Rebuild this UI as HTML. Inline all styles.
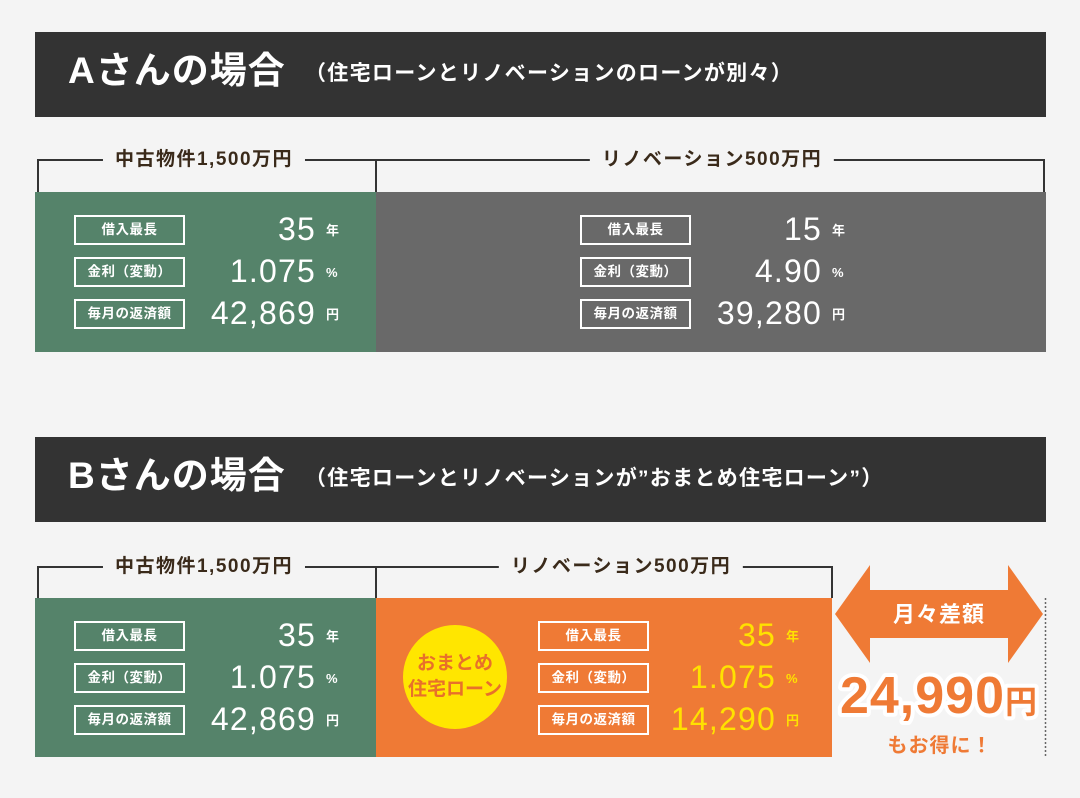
<!DOCTYPE html>
<html><head><meta charset="utf-8"><style>
body{margin:0;width:1080px;height:798px;background:#f4f4f4;position:relative;overflow:hidden;font-family:"Liberation Sans","Noto Sans CJK JP",sans-serif;}
.abs{position:absolute;}
.hdr{position:absolute;left:35px;width:1011px;height:85px;background:#333;color:#fff;}
.hdr .t{position:absolute;left:33px;top:17px;font-size:37px;font-weight:bold;line-height:44px;letter-spacing:1px;}
.hdr .s{position:absolute;left:270px;top:28px;font-size:21px;font-weight:bold;line-height:28px;letter-spacing:1.3px;}
.ln{position:absolute;background:#333;}
.bt{position:absolute;font-size:19px;font-weight:bold;color:#3a2a1a;background:#f4f4f4;padding:0 12px;line-height:24px;transform:translateX(-50%);white-space:nowrap;letter-spacing:1.5px;}
.box{position:absolute;}
.lab{position:absolute;width:107px;height:26px;border:2px solid #fff;color:#fff;font-size:13.5px;font-weight:bold;text-align:center;line-height:26px;letter-spacing:0.5px;}
.val{position:absolute;font-size:32px;color:#fff;text-align:right;width:170px;line-height:34px;letter-spacing:1.2px;}
.unit{position:absolute;font-size:13px;font-weight:bold;color:#fff;line-height:34px;}
.y{color:#ffe100;}
</style></head><body>
<div class="hdr" style="top:32px"><div class="t">Aさんの場合</div><div class="s">（住宅ローンとリノベーションのローンが別々）</div></div>
<div class="ln" style="left:37px;top:159px;width:1008px;height:2px"></div>
<div class="ln" style="left:37px;top:159px;width:2px;height:33px"></div>
<div class="ln" style="left:375px;top:159px;width:2px;height:33px"></div>
<div class="ln" style="left:1043px;top:159px;width:2px;height:33px"></div>
<div class="bt" style="left:204px;top:148px">中古物件1,500万円</div>
<div class="bt" style="left:712px;top:148px">リノベーション500万円</div>
<div class="box" style="left:35px;top:192px;width:341px;height:160px;background:#55836a"></div>
<div class="box" style="left:376px;top:192px;width:670px;height:160px;background:#696969"></div>

<div class="hdr" style="top:437px"><div class="t">Bさんの場合</div><div class="s">（住宅ローンとリノベーションが”おまとめ住宅ローン”）</div></div>
<div class="ln" style="left:37px;top:566px;width:796px;height:2px"></div>
<div class="ln" style="left:37px;top:566px;width:2px;height:32px"></div>
<div class="ln" style="left:375px;top:566px;width:2px;height:32px"></div>
<div class="ln" style="left:831px;top:566px;width:2px;height:32px"></div>
<div class="bt" style="left:204px;top:555px">中古物件1,500万円</div>
<div class="bt" style="left:621px;top:555px">リノベーション500万円</div>
<div class="box" style="left:35px;top:598px;width:341px;height:159px;background:#55836a"></div>
<div class="box" style="left:376px;top:598px;width:456px;height:159px;background:#ef7a35"></div>
<div class="abs" style="left:403px;top:625px;width:104px;height:104px;border-radius:50%;background:#ffe600;color:#e8702a;font-size:19px;font-weight:bold;text-align:center;line-height:26px;padding-top:26px;box-sizing:border-box">おまとめ<br>住宅ローン</div>

<div id="rows"></div>

<svg class="abs" style="left:0;top:0" width="1080" height="798">
<polygon points="835,614 870,565 870,590 1008,590 1008,565 1043,614 1008,663 1008,638 870,638 870,663" fill="#ef7a35"/>
<line x1="1045.5" y1="598" x2="1045.5" y2="757" stroke="#666" stroke-width="1.5" stroke-dasharray="2,2"/>
<text x="939" y="622" fill="#fff" font-size="22" font-weight="bold" text-anchor="middle" letter-spacing="1" font-family="Liberation Sans,Noto Sans CJK JP,sans-serif">月々差額</text>
<text x="939" y="713" fill="#ef7a35" stroke="#fff" stroke-width="8" paint-order="stroke" stroke-linejoin="round" font-size="52" font-weight="bold" text-anchor="middle" letter-spacing="1" font-family="Liberation Sans,Noto Sans CJK JP,sans-serif">24,990<tspan font-size="32">円</tspan></text>
<text x="940" y="752" fill="#ef7a35" font-size="20" font-weight="bold" text-anchor="middle" letter-spacing="1" font-family="Liberation Sans,Noto Sans CJK JP,sans-serif">もお得に！</text>
</svg>

<script>
const labels=['借入最長','金利（変動）','毎月の返済額'];
const units=['年','%','円'];
const panels=[
 {lx:74,vx:316,top:215,vals:['35','1.075','42,869'],y:false,n:'a-property'},
 {lx:580,vx:822,top:215,vals:['15','4.90','39,280'],y:false,n:'a-renovation'},
 {lx:74,vx:316,top:621,vals:['35','1.075','42,869'],y:false,n:'b-property'},
 {lx:538,vx:776,top:621,vals:['35','1.075','14,290'],y:true,n:'b-combined'}
];
const root=document.getElementById('rows');
panels.forEach(p=>{
 for(let i=0;i<3;i++){
  const t=p.top+i*42;
  const l=document.createElement('div');l.className='lab';
  
  
  l.style.left=p.lx+'px';l.style.top=t+'px';l.textContent=labels[i];root.appendChild(l);
  const v=document.createElement('div');v.className='val'+(p.y?' y':'');
  
  
  v.style.left=(p.vx-170)+'px';v.style.top=(t-3)+'px';v.textContent=p.vals[i];root.appendChild(v);
  const u=document.createElement('div');u.className='unit'+(p.y?' y':'');
  
  
  u.style.left=(p.vx+10)+'px';u.style.top=(t-1)+'px';u.textContent=units[i];root.appendChild(u);
 }
});
</script>
</body></html>
